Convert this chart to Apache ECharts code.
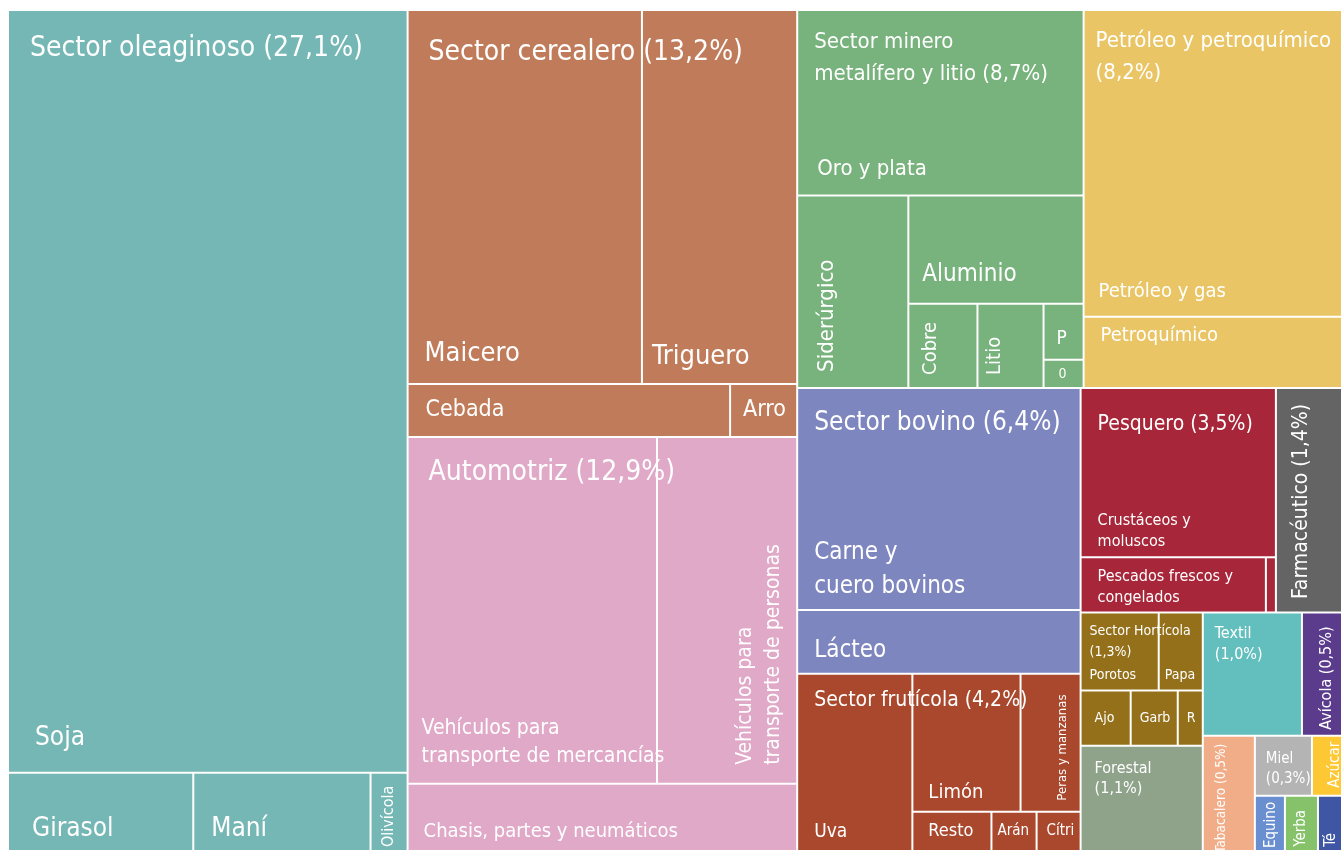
<!DOCTYPE html>
<html>
<head>
<meta charset="utf-8">
<script src="https://cdn.jsdelivr.net/npm/echarts@6/dist/echarts.min.js"></script>
<style>
  html, body { margin: 0; background: #fff; }
  #chart { width: 1341px; height: 850px; }
</style>
</head>
<body>
<div id="chart"></div>
<script>
// sectores (primer nivel)
const sectores = ['Sector oleaginoso', 'Sector cerealero', 'Automotriz', 'Sector minero metalífero y litio',
  'Petróleo y petroquímico', 'Sector bovino', 'Sector frutícola', 'Pesquero', 'Farmacéutico', 'Sector Hortícola',
  'Forestal', 'Textil', 'Avícola', 'Tabacalero', 'Miel', 'Azúcar', 'Equino', 'Yerba', 'Té'];
const sectorEtiquetas = ['Sector oleaginoso (27,1%)', 'Sector cerealero (13,2%)', 'Automotriz (12,9%)',
  'Sector minero\nmetalífero y litio (8,7%)', 'Petróleo y petroquímico\n(8,2%)', 'Sector bovino (6,4%)',
  'Sector frutícola (4,2%)', 'Pesquero (3,5%)', 'Farmacéutico (1,4%)', 'Sector Hortícola\n(1,3%)',
  'Forestal\n(1,1%)', 'Textil\n(1,0%)', 'Avícola (0,5%)', 'Tabacalero (0,5%)', 'Miel\n(0,3%)',
  'Azúcar', 'Equino', 'Yerba', 'Té'];
const sectorValores = [null, null, null, null, null, null, null, null, 14784, null,
  12810, 12177, 4920, 5980, 3420, 1800, 1650, 1815, 1320];

// subsectores
const oleaginosoNombres = ['Soja', 'Girasol', 'Maní', 'Olivícola'];
const oleaginosoValores = [303639, 14430, 13806, 2886];
const cerealNombres = ['Maicero', 'Triguero', 'Cebada', 'Arro'];
const cerealValores = [87282, 57815, 17066, 3551];
const automotrizNombres = ['Vehículos para transporte de mercancías', 'Vehículos para transporte de personas', 'Chasis, partes y neumáticos'];
const automotrizValores = [86154, 48440, 26063];
const mineroNombres = ['Oro y plata', 'Siderúrgico', 'Aluminio', 'Cobre', 'Litio', 'P', '0'];
const mineroValores = [52910, 21312, 18900, 5796, 5544, 2240, 1120];
const petroleoNombres = ['Petróleo y gas', 'Petroquímico'];
const petroleoValores = [78948, 18318];
const bovinoNombres = ['Carne y cuero bovinos', 'Lácteo'];
const bovinoValores = [62670, 18030];
const fruticolaNombres = ['Uva', 'Limón', 'Peras y manzanas', 'Resto', 'Arán', 'Cítri'];
const fruticolaValores = [20340, 14860, 8250, 3100, 1770, 1726];
const pesqueroNombres = ['Crustáceos y moluscos', 'Pescados frescos y congelados', 'Otros'];
const pesqueroValores = [32955, 10175, 550];
const horticolaNombres = ['Porotos', 'Papa', 'Ajo', 'Garb', 'R'];
const horticolaValores = [6084, 3432, 2750, 2585, 1375];

const subsectores = {
  0: [oleaginosoNombres, oleaginosoValores], 1: [cerealNombres, cerealValores],
  2: [automotrizNombres, automotrizValores], 3: [mineroNombres, mineroValores],
  4: [petroleoNombres, petroleoValores], 5: [bovinoNombres, bovinoValores],
  6: [fruticolaNombres, fruticolaValores], 7: [pesqueroNombres, pesqueroValores],
  9: [horticolaNombres, horticolaValores]
};

// orden y agrupamiento de celdas (sin coordenadas, solo anidamiento)
const ordenSectores = [0, 1, 2, 3, 4, 5, 6, [7, 8], [9, 10, [11, 12], [13, [14, 15, 16, 17, 18]]]];
const ordenHijos = { 1: [[0, 1], 2, 3], 2: [[0, 1], 2], 6: [0, [1, 2], 3, 4, 5] };

const coloresSector = ['#74b7b4', '#c07c5a', '#e0a9c8', '#78b27c', '#e9c566', '#7e86bf', '#a9482d', '#a72639',
  '#646464', '#94701a', '#8fa38b', '#62bfbd', '#5b3b8c', '#f1ad88', '#b4b4b4', '#fdc834', '#6a8fd0', '#85c26a', '#3e56a3'];

const FUENTE = "'DejaVu Sans Condensed', 'Liberation Sans Narrow', sans-serif";

const estiloSector = [
  { p: 'tl', s: 28, x: 21, y: 38 }, { p: 'tl', s: 28, x: 20, y: 42 }, { p: 'tl', s: 28, x: 20, y: 35 },
  { p: 'tl', s: 22, x: 16, y: 31, lh: 32 }, { p: 'tl', s: 22, x: 11, y: 30, lh: 32 },
  { p: 'tl', s: 26, x: 16, y: 34 }, { p: 'tl', s: 21, x: 16, y: 26 }, { p: 'tl', s: 21, x: 16, y: 36 },
  { p: 'vt', s: 21, x: 25, y: 15 }, { p: 'tl', s: 14, x: 8, y: 18, lh: 21 },
  { p: 'tl', s: 16, x: 13, y: 22, lh: 20 }, { p: 'tl', s: 16, x: 11, y: 20, lh: 21 },
  { p: 'vt', s: 16, x: 24, y: 13 }, { p: 'vt', s: 13.5, x: 18, y: 7 }, { p: 'tl', s: 15, x: 10, y: 22, lh: 20 },
  { p: 'vt', s: 15, x: 22, y: 5 }, { p: 'vt', s: 15, x: 15, y: 5 }, { p: 'vt', s: 15, x: 15, y: 13 },
  { p: 'vt', s: 15, x: 12, y: 36 }
];

const estiloHoja = {
  'Soja': { p: 'bl', s: 26, x: 26, y: 34 },
  'Girasol': { p: 'bl', s: 26, x: 23, y: 21 },
  'Maní': { p: 'bl', s: 26, x: 17, y: 21 },
  'Olivícola': { p: 'vb', s: 16, x: '50%', y: 3 },
  'Maicero': { p: 'bl', s: 27, x: 16, y: 29 },
  'Triguero': { p: 'bl', s: 27, x: 9, y: 26 },
  'Cebada': { p: 'ml', s: 23, x: 17 },
  'Arro': { p: 'ml', s: 23, x: 12 },
  'Vehículos para transporte de mercancías': { p: 'bl', s: 21, x: 13, y: 26, lh: 28, t: 'Vehículos para\ntransporte de mercancías' },
  'Vehículos para transporte de personas': { p: 'vb', s: 21, x: 102, y: 18, lh: 28, t: 'Vehículos para\ntransporte de personas' },
  'Chasis, partes y neumáticos': { p: 'bl', s: 20, x: 15, y: 18 },
  'Oro y plata': { p: 'bl', s: 22, x: 19, y: 25 },
  'Siderúrgico': { p: 'vb', s: 22, x: 29, y: 15 },
  'Aluminio': { p: 'bl', s: 24, x: 13, y: 28 },
  'Cobre': { p: 'vb', s: 20, x: 21, y: 12 },
  'Litio': { p: 'vb', s: 20, x: 16, y: 12 },
  'P': { p: 'tl', s: 19, x: 12, y: 34 },
  '0': { p: 'ml', s: 14, x: 14 },
  'Petróleo y gas': { p: 'bl', s: 20, x: 14, y: 24 },
  'Petroquímico': { p: 'tl', s: 20, x: 16, y: 18 },
  'Carne y cuero bovinos': { p: 'bl', s: 24, x: 16, y: 22, lh: 34, t: 'Carne y\ncuero bovinos' },
  'Lácteo': { p: 'bl', s: 24, x: 16, y: 22 },
  'Uva': { p: 'bl', s: 19, x: 16, y: 18 },
  'Limón': { p: 'bl', s: 20, x: 15, y: 18 },
  'Peras y manzanas': { p: 'vb', s: 13, x: 41, y: 10 },
  'Resto': { p: 'ml', s: 18, x: 15 },
  'Arán': { p: 'ml', s: 15, x: 5 },
  'Cítri': { p: 'ml', s: 15, x: 9 },
  'Crustáceos y moluscos': { p: 'bl', s: 16, x: 16, y: 14, lh: 21, t: 'Crustáceos y\nmoluscos' },
  'Pescados frescos y congelados': { p: 'tl', s: 16, x: 16, y: 19, lh: 21, t: 'Pescados frescos y\ncongelados' },
  'Porotos': { p: 'bl', s: 14, x: 8, y: 14 },
  'Papa': { p: 'bl', s: 14, x: 5, y: 14 },
  'Ajo': { p: 'ml', s: 14, x: 13 },
  'Garb': { p: 'ml', s: 14, x: 8 },
  'R': { p: 'ml', s: 14, x: 8 }
};

function etiqueta(e) {
  if (!e) return { show: false };
  const lh = e.lh || Math.round(e.s * 1.2);
  const l = { show: true, color: '#fff', fontFamily: FUENTE, fontSize: e.s, lineHeight: lh, overflow: 'none', distance: 0, padding: 0 };
  if (e.t) l.formatter = e.t;
  if (e.p === 'tl') Object.assign(l, { position: [e.x, e.y - lh / 2], align: 'left', verticalAlign: 'top' });
  if (e.p === 'ml') Object.assign(l, { position: [e.x, '50%'], align: 'left', verticalAlign: 'middle' });
  if (e.p === 'bl') Object.assign(l, { position: [e.x, '100%'], align: 'left', verticalAlign: 'bottom', offset: [0, -(e.y - lh / 2)] });
  if (e.p === 'vb') Object.assign(l, { position: [e.x, '100%'], rotate: 90, align: 'left', verticalAlign: 'middle', padding: [0, 0, 0, e.y] });
  if (e.p === 'vt') Object.assign(l, { position: [e.x, 0], rotate: 90, align: 'right', verticalAlign: 'middle', padding: [0, e.y, 0, 0] });
  return l;
}

function agrupar(orden, nodos) {
  return orden.map(o => Array.isArray(o) ? { name: '', children: agrupar(o, nodos) } : nodos[o]);
}

// serie con las celdas y los nombres de los subsectores
const hojasSector = sectores.map((s, i) => {
  const sub = subsectores[i];
  if (!sub) return { name: s, value: sectorValores[i], itemStyle: { color: coloresSector[i] }, label: { show: false } };
  const hojas = sub[0].map((n, j) => ({
    name: n, value: sub[1][j], itemStyle: { color: coloresSector[i] }, label: etiqueta(estiloHoja[n])
  }));
  return { name: s, children: agrupar(ordenHijos[i] || hojas.map((_, j) => j), hojas) };
});

// serie transparente encima, solo para los títulos de sector
const titulosSector = sectores.map((s, i) => {
  const sub = subsectores[i];
  const v = sub ? sub[1].reduce((a, b) => a + b, 0) : sectorValores[i];
  const l = etiqueta(estiloSector[i]);
  l.formatter = sectorEtiquetas[i];
  return { name: s, value: v, itemStyle: { color: 'rgba(0,0,0,0)' }, label: l };
});

const comun = {
  type: 'treemap',
  left: 9, top: 11, right: 0, bottom: 0,
  sort: false,
  squareRatio: 1,
  roam: false,
  nodeClick: false,
  visibleMin: 0,
  animation: false,
  breadcrumb: { show: false },
  upperLabel: { show: false },
  emphasis: { disabled: true }
};

const chart = echarts.init(document.getElementById('chart'));
chart.setOption({
  animation: false,
  series: [
    Object.assign({}, comun, {
      itemStyle: { borderWidth: 0, gapWidth: 2, borderColor: '#fff' },
      data: agrupar(ordenSectores, hojasSector)
    }),
    Object.assign({}, comun, {
      z: 3,
      silent: true,
      itemStyle: { borderWidth: 0, gapWidth: 2, borderColor: 'rgba(0,0,0,0)', color: 'rgba(0,0,0,0)' },
      data: agrupar(ordenSectores, titulosSector)
    })
  ]
});
</script>
</body>
</html>
